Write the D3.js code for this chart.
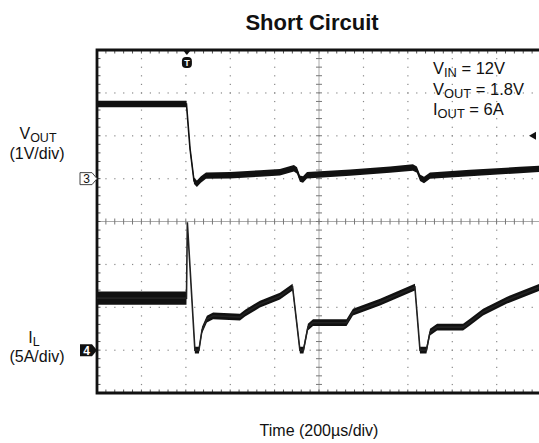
<!DOCTYPE html>
<html><head><meta charset="utf-8">
<script src="https://cdn.jsdelivr.net/npm/d3@7"></script>
<style>body{margin:0;background:#fff}svg{display:block}text{font-family:"Liberation Sans",Arial,sans-serif;fill:#111}</style>
</head><body>
<script>
// ---- data ----
const voutTime = [0,403,419,437,450,468,491,599,734,824,887,901,914,928,946,1140,1320,1423,1441,1455,1473,1500,1680,1905,2000]; // µs
const voutVal  = [1.74,1.74,0.70,-0.05,-0.12,-0.02,0.07,0.08,0.12,0.15,0.24,0.19,0.0,-0.02,0.08,0.14,0.21,0.26,0.21,0.02,-0.03,0.07,0.13,0.20,0.23]; // V
const ilTime = [0,403,407,441,459,473,495,523,644,667,734,824,881,914,930,950,973,1124,1153,1275,1432,1455,1484,1500,1532,1649,1680,1739,1847,2000]; // µs
const ilVal  = [6.06,6.06,14.9,0,0,2.33,3.61,4.0,3.85,4.31,5.36,6.29,7.34,0,0,2.68,3.2,3.2,4.43,5.59,7.34,0,0,2.1,2.68,2.68,3.26,4.43,5.83,7.4]; // A
const ilRipple = [1.55,1.55,0.2,0.8,0.8,0.8,0.8,0.8,0.8,0.8,0.8,0.8,0.8,0.8,0.8,0.8,0.8,0.8,0.8,0.8,0.8,0.8,0.8,0.8,0.8,0.8,0.8,0.8,0.8,0.8]; // A p-p
const voutRipple = 0.15; // V p-p
const triggerTime = 405;   // µs
const triggerLevel = 1.0;  // V
const title = "Short Circuit";
const xLabel = "Time (200µs/div)";
const conditions = [["V","IN"," = 12V"],["V","OUT"," = 1.8V"],["I","OUT"," = 6A"]];

// ---- layout ----
const W = 539, H = 443;
const L = 97, T = 50, R = 541, B = 393;
const svg = d3.select("body").append("svg").attr("width", W).attr("height", H);

const x = d3.scaleLinear().domain([0, 2000]).range([L, R]);
const yV = d3.scaleLinear().domain([-5, 3]).range([B, T]);   // 1 V/div, ch3 ground 3 div from top
const yI = d3.scaleLinear().domain([-5, 35]).range([B, T]);  // 5 A/div, ch4 ground 1 div from bottom
const yDiv = d3.scaleLinear().domain([0, 8]).range([T, B]);

const g = svg.append("g");
// dotted grid
const xMajor = d3.range(200, 2000, 200);
const xMinor = d3.range(0, 2000.1, 40);
const yMajor = d3.range(1, 8);
const yMinor = d3.range(0, 8.01, 0.2);
xMajor.forEach(t => {
  if (t === 1000) return;
  yMinor.forEach(d => g.append("rect").attr("x", x(t) - 0.5).attr("y", yDiv(d) - 0.5).attr("width", 1.2).attr("height", 1.2).attr("fill", "#888"));
});
yMajor.forEach(d => {
  if (d === 4) return;
  xMinor.forEach(t => g.append("rect").attr("x", x(t) - 0.5).attr("y", yDiv(d) - 0.5).attr("width", 1.2).attr("height", 1.2).attr("fill", "#888"));
});
// center cross with ticks
g.append("line").attr("x1", L).attr("x2", R).attr("y1", yDiv(4)).attr("y2", yDiv(4)).attr("stroke", "#aaa").attr("stroke-width", 1);
g.append("line").attr("x1", x(1000)).attr("x2", x(1000)).attr("y1", T).attr("y2", B).attr("stroke", "#aaa").attr("stroke-width", 1);
xMinor.forEach(t => g.append("line").attr("x1", x(t)).attr("x2", x(t)).attr("y1", yDiv(4) - 3).attr("y2", yDiv(4) + 3).attr("stroke", "#777"));
yMinor.forEach(d => g.append("line").attr("x1", x(1000) - 3).attr("x2", x(1000) + 3).attr("y1", yDiv(d)).attr("y2", yDiv(d)).attr("stroke", "#777"));
// border ticks
xMinor.forEach(t => {
  g.append("line").attr("x1", x(t)).attr("x2", x(t)).attr("y1", T).attr("y2", T + 3.5).attr("stroke", "#555");
  g.append("line").attr("x1", x(t)).attr("x2", x(t)).attr("y1", B).attr("y2", B - 3.5).attr("stroke", "#555");
});
yMinor.forEach(d => g.append("line").attr("x1", L).attr("x2", L + 3.5).attr("y1", yDiv(d)).attr("y2", yDiv(d)).attr("stroke", "#555"));
// frame
g.append("path").attr("d", `M${R + 5},${T}H${L}V${B}H${R + 5}`).attr("fill", "none").attr("stroke", "#111").attr("stroke-width", 2.8);

// ---- traces ----
const vData = voutTime.map((t, i) => ({ t, v: voutVal[i] }));
const iData = ilTime.map((t, i) => ({ t, v: ilVal[i], r: ilRipple[i] }));
svg.append("clipPath").attr("id", "c").append("rect").attr("x", L).attr("y", T).attr("width", R - L).attr("height", B - T);
const tr = svg.append("g").attr("clip-path", "url(#c)");
tr.append("path").datum(vData)
  .attr("d", d3.area().x(d => x(d.t)).y0(d => yV(d.v - voutRipple / 2)).y1(d => yV(d.v + voutRipple / 2)))
  .attr("fill", "#111");
tr.append("path").datum(vData)
  .attr("d", d3.line().x(d => x(d.t)).y(d => yV(d.v)))
  .attr("fill", "none").attr("stroke", "#111").attr("stroke-width", 1.6);
tr.append("path").datum(iData)
  .attr("d", d3.area().x(d => x(d.t)).y0(d => yI(d.v - d.r / 2)).y1(d => yI(d.v + d.r / 2)))
  .attr("fill", "#111");
tr.append("path").datum(iData)
  .attr("d", d3.line().x(d => x(d.t)).y(d => yI(d.v)))
  .attr("fill", "none").attr("stroke", "#222").attr("stroke-width", 1.6);

// ---- markers ----
const tx = x(triggerTime);
svg.append("path").attr("d", `M${tx - 4},${T}L${tx + 4},${T}L${tx},${T + 5}Z`).attr("fill", "#111");
svg.append("rect").attr("x", tx - 5).attr("y", T + 7).attr("width", 10).attr("height", 11).attr("rx", 4).attr("fill", "#111");
svg.append("text").attr("x", tx).attr("y", T + 16).attr("text-anchor", "middle").style("font-size", "9px").style("font-weight", "bold").style("fill", "#fff").text("T");
const ly = yV(triggerLevel);
svg.append("path").attr("d", `M${529},${ly}L${536},${ly - 4}L${536},${ly + 4}Z`).attr("fill", "#111");
// channel 3 (outlined)
const c3 = yV(0);
svg.append("path").attr("d", `M80,${c3 - 6}H92L97,${c3}L92,${c3 + 6}H80Z`).attr("fill", "#fff").attr("stroke", "#444").attr("stroke-width", 1);
svg.append("text").attr("x", 86.5).attr("y", c3 + 4.5).attr("text-anchor", "middle").style("font-size", "12px").text("3");
// channel 4 (filled)
const c4 = yI(0);
svg.append("path").attr("d", `M80,${c4 - 6}H92L97,${c4}L92,${c4 + 6}H80Z`).attr("fill", "#111");
svg.append("text").attr("x", 86.5).attr("y", c4 + 4.5).attr("text-anchor", "middle").style("font-size", "12px").style("font-weight", "bold").style("fill", "#fff").text("4");

// ---- text ----
svg.append("text").attr("x", 312).attr("y", 30).attr("text-anchor", "middle").style("font-size", "22px").style("font-weight", "bold").text(title);
svg.append("text").attr("x", 319).attr("y", 436).attr("text-anchor", "middle").style("font-size", "16px").text(xLabel);

function subText(sel, main, sub, rest, size) {
  sel.append("tspan").text(main);
  sel.append("tspan").attr("dy", size * 0.2).style("font-size", (size * 0.78) + "px").text(sub);
  if (rest) sel.append("tspan").attr("dy", -size * 0.2).text(rest);
}
conditions.forEach((c, i) => {
  const t = svg.append("text").attr("x", 433).attr("y", 74 + i * 20.5).style("font-size", "16.5px");
  subText(t, c[0], c[1], c[2], 16.5);
});
const v1 = svg.append("text").attr("x", 38).attr("y", 139).attr("text-anchor", "middle").style("font-size", "16px");
subText(v1, "V", "OUT", "", 16);
svg.append("text").attr("x", 37).attr("y", 159).attr("text-anchor", "middle").style("font-size", "16px").text("(1V/div)");
const i1 = svg.append("text").attr("x", 34).attr("y", 343).attr("text-anchor", "middle").style("font-size", "16px");
subText(i1, "I", "L", "", 16);
svg.append("text").attr("x", 37).attr("y", 362).attr("text-anchor", "middle").style("font-size", "16px").text("(5A/div)");
</script>
</body></html>
